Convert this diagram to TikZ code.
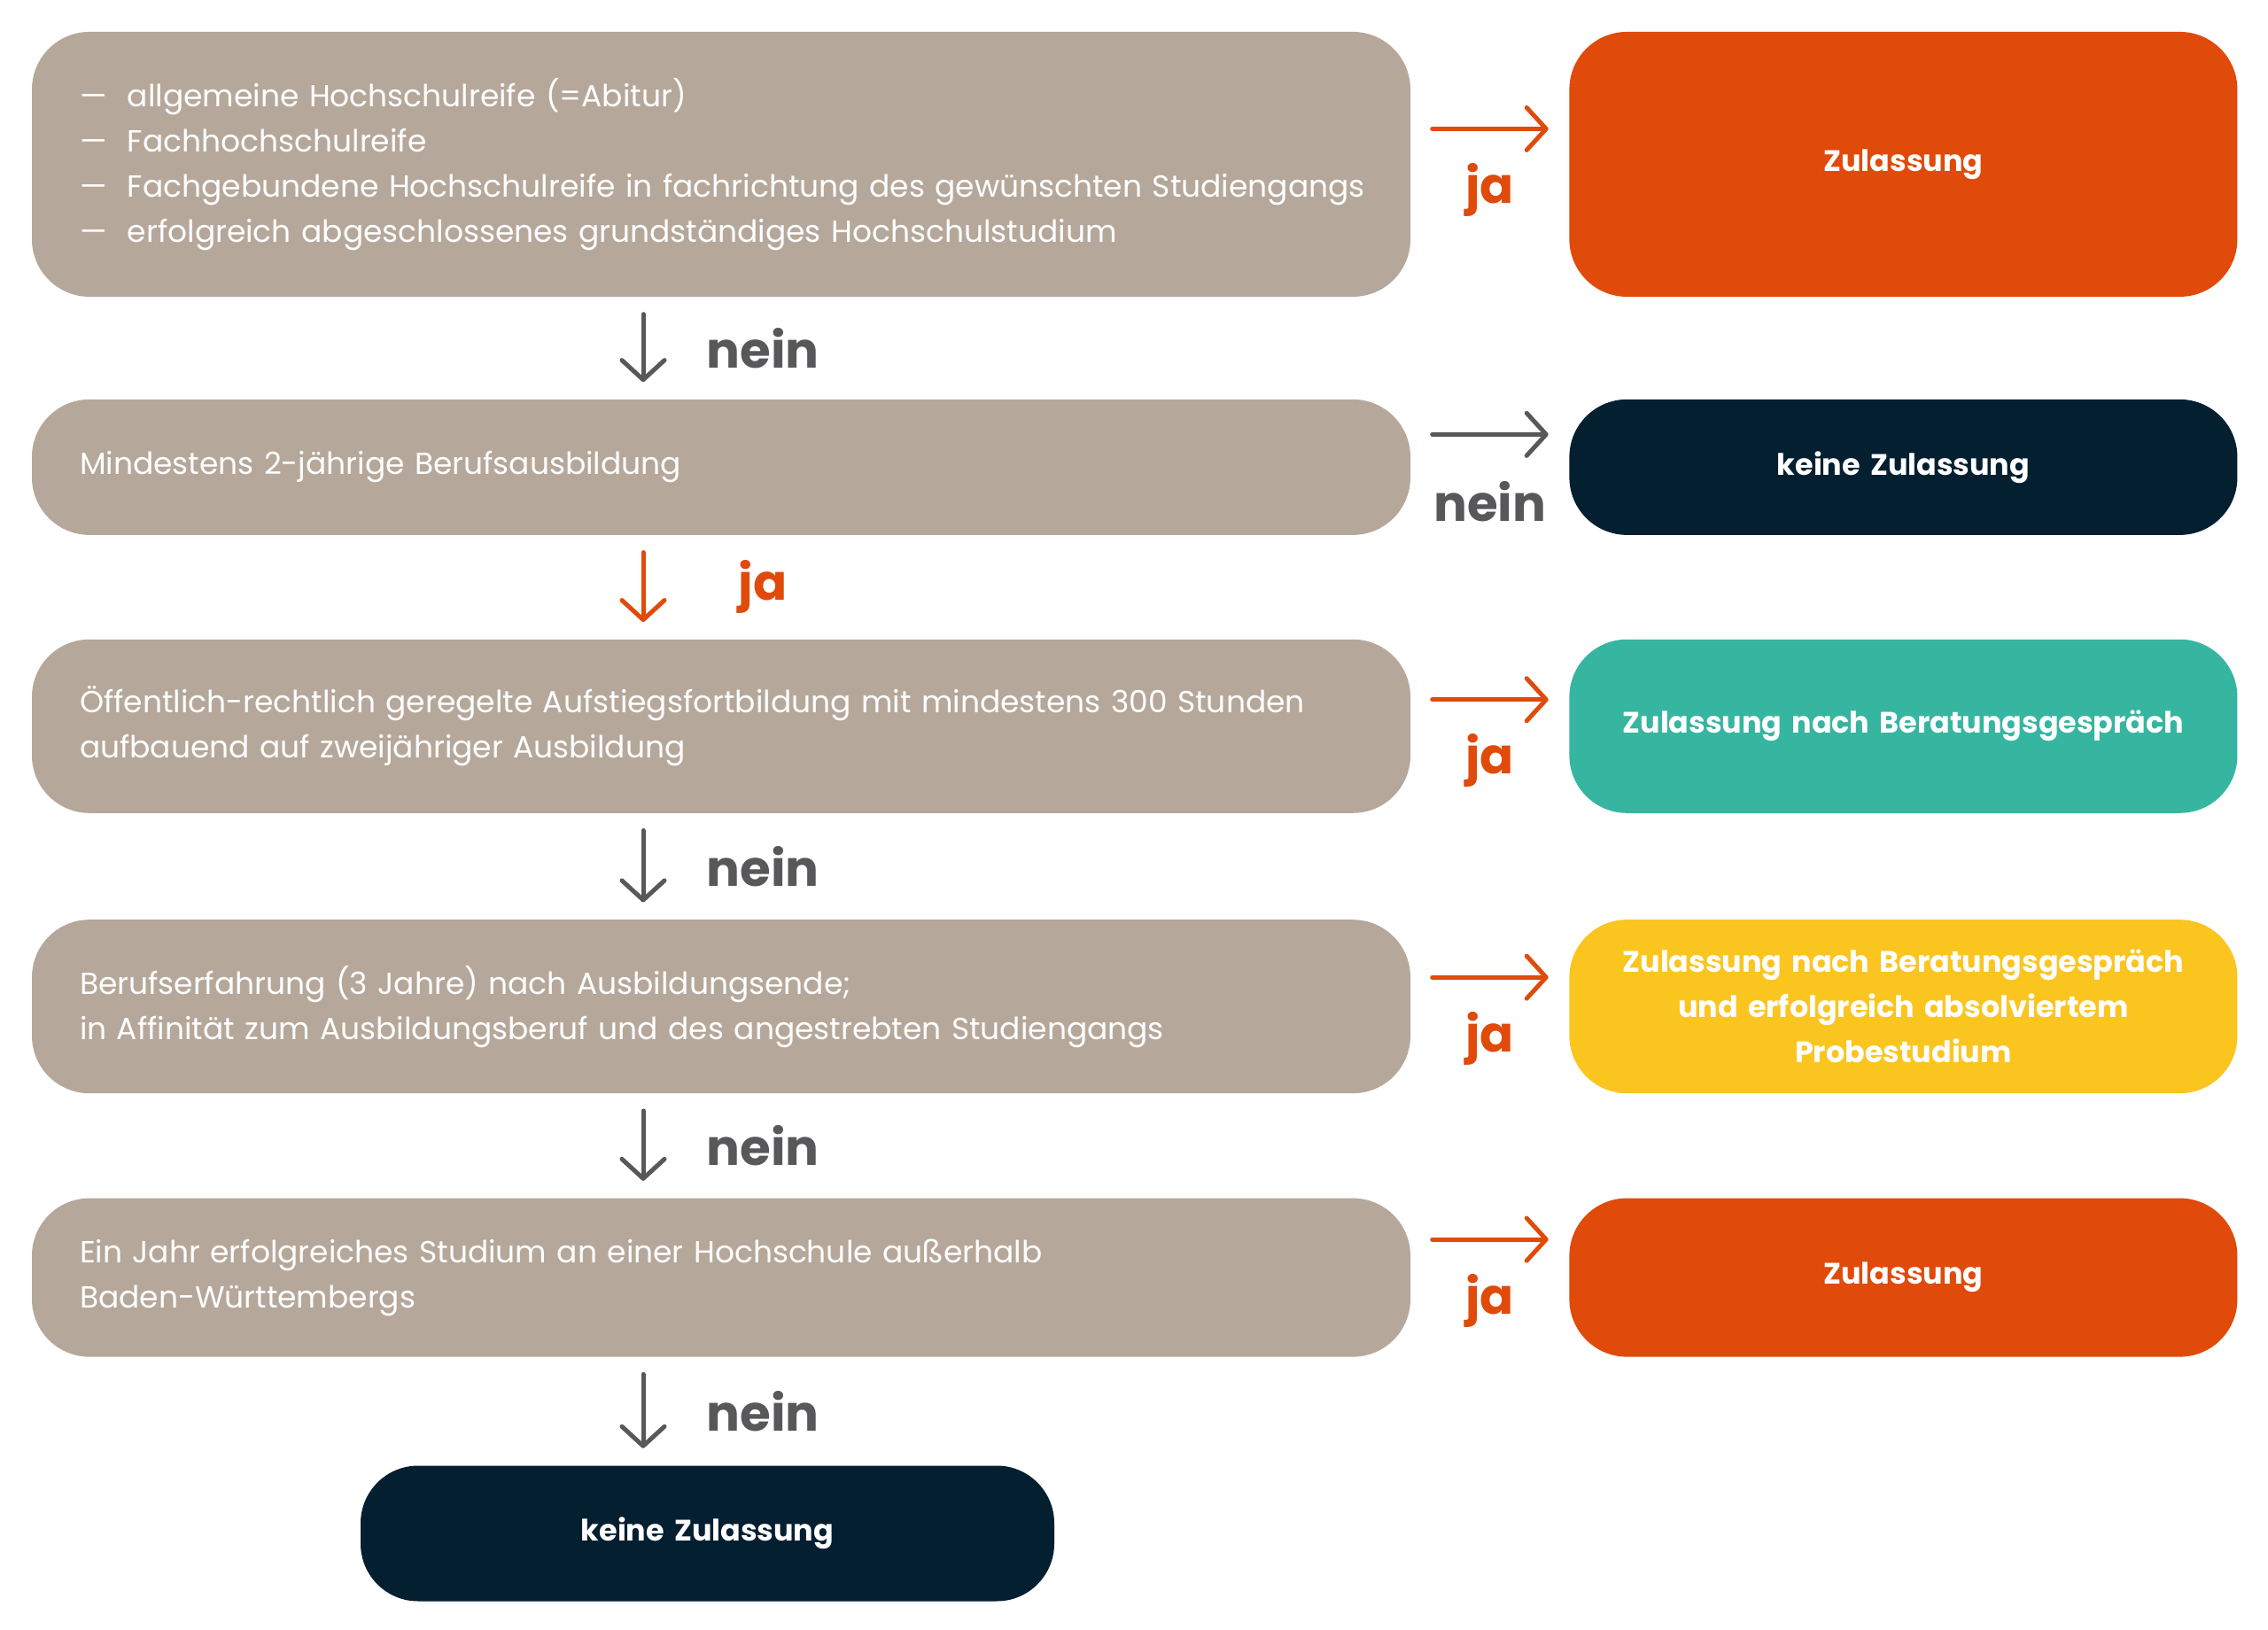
\documentclass[tikz,border=0pt]{standalone}
\usepackage{fontspec}
\setmainfont{Poppins}
\usetikzlibrary{positioning,arrows.meta}

\definecolor{taupe}{RGB}{181,168,155}
\definecolor{signal}{RGB}{224,74,10}
\definecolor{navy}{RGB}{4,31,48}
\definecolor{teal}{RGB}{54,181,160}
\definecolor{sun}{RGB}{251,197,32}
\definecolor{slate}{RGB}{88,88,90}

\begin{document}
\begin{tikzpicture}[
  font=\fontsize{9.8}{14.5}\selectfont,
  cond/.style={rounded corners=0.65cm, fill=taupe, text=white, minimum width=15.56cm,
    text width=14.48cm, inner xsep=0.54cm, align=left},
  res/.style={rounded corners=0.65cm, text=white, minimum width=7.54cm, text width=7cm,
    align=center, font=\fontsize{9.5}{14.5}\selectfont\bfseries},
  lbl/.style={font=\fontsize{16}{19}\selectfont\bfseries},
  flow/.style={-{Straight Barb[length=0.22cm,width=0.48cm,round]}, line width=0.05cm, line cap=round},
  down/.style={flow, shorten <=0.19cm, shorten >=0.19cm},
  side/.style={flow, shorten <=0.24cm, shorten >=0.23cm}
]
  \useasboundingbox (0,0) rectangle (25.6,18.4);

  % Conditions
  \node[cond, minimum height=2.99cm] (q1) at (8.14,16.545)
    {\makebox[0.54cm][l]{\textemdash}allgemeine Hochschulreife (=Abitur)\\
     \makebox[0.54cm][l]{\textemdash}Fachhochschulreife\\
     \mbox{\makebox[0.54cm][l]{\textemdash}Fachgebundene Hochschulreife in fachrichtung des gewünschten Studiengangs}\\
     \makebox[0.54cm][l]{\textemdash}erfolgreich abgeschlossenes grundständiges Hochschulstudium};
  \node[cond, minimum height=1.53cm, below=1.145cm of q1] (q2) {Mindestens 2-jährige Berufsausbildung};
  \node[cond, minimum height=1.96cm, below=1.165cm of q2] (q3)
    {Öffentlich-rechtlich geregelte Aufstiegsfortbildung mit mindestens 300 Stunden\\
     aufbauend auf zweijähriger Ausbildung};
  \node[cond, minimum height=1.96cm, below=1.19cm of q3] (q4)
    {Berufserfahrung (3 Jahre) nach Ausbildungsende;\\
     in Affinität zum Ausbildungsberuf und des angestrebten Studiengangs};
  \node[cond, minimum height=1.79cm, below=1.17cm of q4] (q5)
    {Ein Jahr erfolgreiches Studium an einer Hochschule außerhalb\\
     Baden-Württembergs};

  % Results
  \node[res, fill=signal, minimum height=2.99cm, right=1.78cm of q1] (r1) {Zulassung};
  \node[res, fill=navy, minimum height=1.53cm, right=1.78cm of q2] (r2) {keine Zulassung};
  \node[res, fill=teal, minimum height=1.96cm, right=1.78cm of q3] (r3) {Zulassung nach Beratungsgespräch};
  \node[res, fill=sun, minimum height=1.96cm, right=1.78cm of q4] (r4)
    {Zulassung nach Beratungsgespräch\\ und erfolgreich absolviertem\\ Probestudium};
  \node[res, fill=signal, minimum height=1.79cm, right=1.78cm of q5] (r5) {Zulassung};
  \node[res, fill=navy, minimum width=7.83cm, minimum height=1.53cm, below=1.215cm of q5, xshift=-0.155cm] (r6)
    {keine Zulassung};

  % Downward arrows
  \coordinate (ax) at (7.26,0);
  \draw[down, slate] (q1.south -| ax) -- (q2.north -| ax)
    node[lbl, midway, xshift=1.35cm, text=slate] {nein};
  \draw[down, signal] (q2.south -| ax) -- (q3.north -| ax)
    node[lbl, midway, xshift=1.35cm, text=signal] {ja};
  \draw[down, slate] (q3.south -| ax) -- (q4.north -| ax)
    node[lbl, midway, xshift=1.35cm, text=slate] {nein};
  \draw[down, slate] (q4.south -| ax) -- (q5.north -| ax)
    node[lbl, midway, xshift=1.35cm, text=slate] {nein};
  \draw[down, slate] (q5.south -| ax) -- (r6.north -| ax)
    node[lbl, midway, xshift=1.35cm, text=slate] {nein};

  % Arrows to the results
  \draw[side, signal] ([yshift=0.40cm]q1.east) -- ([yshift=0.40cm]r1.west)
    node[lbl, midway, anchor=base, yshift=-0.84cm, text=signal] {ja};
  \draw[side, slate] ([yshift=0.37cm]q2.east) -- ([yshift=0.37cm]r2.west)
    node[lbl, midway, anchor=base, yshift=-0.98cm, text=slate] {nein};
  \draw[side, signal] ([yshift=0.30cm]q3.east) -- ([yshift=0.30cm]r3.west)
    node[lbl, midway, anchor=base, yshift=-0.84cm, text=signal] {ja};
  \draw[side, signal] ([yshift=0.33cm]q4.east) -- ([yshift=0.33cm]r4.west)
    node[lbl, midway, anchor=base, yshift=-0.84cm, text=signal] {ja};
  \draw[side, signal] ([yshift=0.43cm]q5.east) -- ([yshift=0.43cm]r5.west)
    node[lbl, midway, anchor=base, yshift=-0.84cm, text=signal] {ja};
\end{tikzpicture}
\end{document}
